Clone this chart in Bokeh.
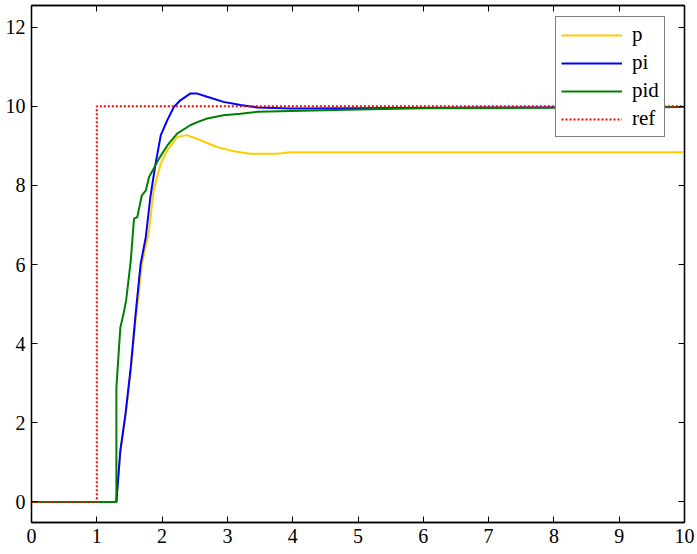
from bokeh.plotting import figure
from bokeh.models import LinearAxis, Range1d, Legend, LegendItem, FixedTicker
from bokeh.embed import file_html
from bokeh.resources import INLINE

# ---- data ----
p_t = [0, 1.30, 1.36, 1.44, 1.52, 1.59, 1.69, 1.80, 1.87, 1.98, 2.08, 2.23, 2.38, 2.59, 2.84, 3.10, 3.35, 3.76, 3.97, 10.0]
p_y = [0, 0, 1.25, 2.15, 3.3, 4.5, 6.0, 6.86, 7.87, 8.55, 8.89, 9.22, 9.27, 9.14, 8.97, 8.86, 8.80, 8.80, 8.84, 8.84]

pi_t = [0, 1.30, 1.36, 1.44, 1.52, 1.59, 1.67, 1.75, 1.82, 1.90, 1.98, 2.08, 2.18, 2.28, 2.43, 2.54, 2.69, 2.94, 3.20, 3.46, 3.97, 5.0, 7.0, 10.0]
pi_y = [0, 0, 1.29, 2.23, 3.4, 4.67, 6.0, 6.69, 7.70, 8.55, 9.27, 9.65, 9.98, 10.15, 10.32, 10.32, 10.24, 10.11, 10.03, 9.97, 9.94, 9.95, 9.97, 9.98]

pid_t = [0, 1.30, 1.30, 1.36, 1.41, 1.45, 1.52, 1.57, 1.62, 1.69, 1.75, 1.80, 1.87, 1.95, 2.08, 2.23, 2.43, 2.54, 2.69, 2.94, 3.20, 3.46, 3.97, 5.0, 6.0, 8.0, 10.0]
pid_y = [0, 0, 2.89, 4.4, 4.76, 5.1, 6.1, 7.16, 7.2, 7.75, 7.87, 8.21, 8.42, 8.67, 9.01, 9.31, 9.52, 9.60, 9.69, 9.77, 9.81, 9.86, 9.88, 9.92, 9.95, 9.96, 9.98]

ref_t = [0, 1, 1, 10]
ref_y = [0, 0, 10, 10]

x_ticks = [0, 1, 2, 3, 4, 5, 6, 7, 8, 9, 10]
y_ticks = [0, 2, 4, 6, 8, 10, 12]

FONT = "Liberation Serif"

p = figure(frame_width=653, frame_height=517, output_backend="svg", toolbar_location=None,
           x_range=Range1d(0, 10), y_range=Range1d(-0.52, 12.546),
           min_border_left=31, min_border_right=13, min_border_top=5, min_border_bottom=32,
           x_axis_location=None, y_axis_location=None)
p.grid.visible = False
p.outline_line_color = "black"
p.outline_line_width = 1.3
p.background_fill_color = "white"
p.border_fill_color = "white"

def mk_axis(ticks, labels=True):
    ax = LinearAxis(ticker=FixedTicker(ticks=ticks))
    ax.major_tick_in = 6
    ax.major_tick_out = 0
    ax.minor_tick_line_color = None
    ax.axis_line_color = "black"
    ax.axis_line_width = 1.3
    ax.major_tick_line_color = "black"
    ax.major_label_text_font = FONT
    ax.major_label_text_font_size = "20px" if labels else "0px"
    ax.major_label_text_color = "black"
    if not labels:
        ax.major_label_standoff = 0
        ax.major_label_text_alpha = 0
    return ax

bx = mk_axis(x_ticks)
bx.major_label_standoff = 6
p.add_layout(bx, "below")
ly = mk_axis(y_ticks)
ly.major_label_standoff = 6
p.add_layout(ly, "left")
p.add_layout(mk_axis(x_ticks, labels=False), "above")
p.add_layout(mk_axis(y_ticks, labels=False), "right")

r_p = p.line(p_t, p_y, line_color="#FFCC00", line_width=2)
r_pi = p.line(pi_t, pi_y, line_color="#0000FF", line_width=2)
r_pid = p.line(pid_t, pid_y, line_color="#008000", line_width=2)
r_ref = p.line(ref_t, ref_y, line_color="#FF0000", line_width=2, line_dash="2 2")

leg = Legend(items=[LegendItem(label="p", renderers=[r_p]),
                    LegendItem(label="pi", renderers=[r_pi]),
                    LegendItem(label="pid", renderers=[r_pid]),
                    LegendItem(label="ref", renderers=[r_ref])],
             location=(524, 385))
leg.margin = 0
leg.padding = 5
leg.spacing = 3
leg.glyph_width = 61
leg.glyph_height = 22
leg.label_height = 22
leg.label_standoff = 10
leg.label_text_font = FONT
leg.label_text_font_size = "21px"
leg.label_text_color = "black"
leg.border_line_color = "black"
leg.border_line_width = 1
leg.background_fill_color = "white"
leg.background_fill_alpha = 1
p.add_layout(leg, "center")

open("out.html", "w").write(file_html(p, INLINE))
